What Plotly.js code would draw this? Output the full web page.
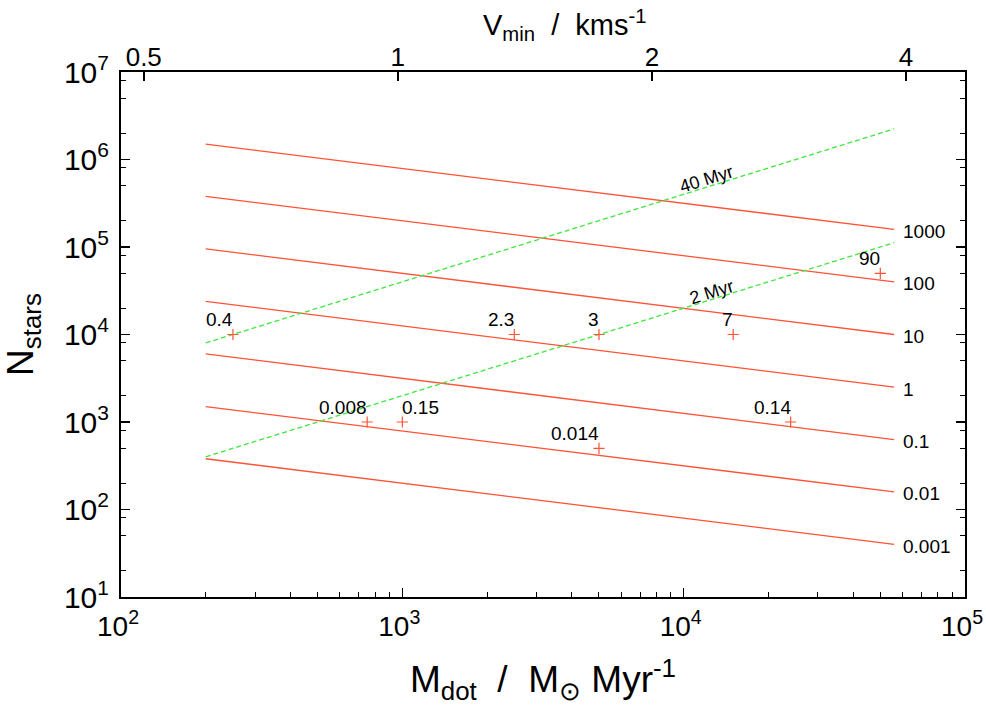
<!DOCTYPE html>
<html>
<head>
<meta charset="utf-8">
<script src="https://cdn.plot.ly/plotly-3.0.1.min.js"></script>
<style>html,body{margin:0;padding:0;background:#fff;}</style>
</head>
<body>
<div id="chart" style="width:986px;height:710px;"></div>
<script>
// ---- data ----
const lineMdot = [200, 56000];                    // x extent of model lines (M_dot)
const lineLabels = ['1000', '100', '10', '1', '0.1', '0.01', '0.001'];
const lineStartN = [1.50e6, 3.78e5, 9.5e4, 2.39e4, 6.0e3, 1.5e3, 3.8e2];
const lineEndN   = [1.59e5, 4.0e4, 1.0e4, 2.5e3, 6.3e2, 1.59e2, 4.0e1];

const ageLabels = ['40 Myr', '2 Myr'];
const ageStartN = [8.0e3, 4.0e2];
const ageEndN   = [2.24e6, 1.12e5];
const ageLabelMdot = [11900, 12400];
const ageLabelN    = [4.8e5, 2.5e4];

const ptMdot   = [250, 750, 1000, 2500, 5000, 15000, 5000, 24000, 50000];
const ptN      = [1e4, 1e3, 1e3, 1e4, 1e4, 1e4, 500, 1e3, 5e4];
const ptLabels = ['0.4', '0.008', '0.15', '2.3', '3', '7', '0.014', '0.14', '90'];
const ptAnchor = ['right', 'right', 'left', 'right', 'right', 'right', 'right', 'right', 'right'];

const xTickVals = [1e2, 1e3, 1e4, 1e5];
const xTickText = ['10<sup>2</sup>', '10<sup>3</sup>', '10<sup>4</sup>', '10<sup>5</sup>'];
const yTickVals = [1e1, 1e2, 1e3, 1e4, 1e5, 1e6, 1e7];
const yTickText = ['10<sup>1</sup>', '10<sup>2</sup>', '10<sup>3</sup>', '10<sup>4</sup>', '10<sup>5</sup>', '10<sup>6</sup>', '10<sup>7</sup>'];
const vTickVals = [0.5, 1, 2, 4];
const vTickText = ['0.5', '1', '2', '4'];
const vRangeLog = [-0.328, 0.672];   // V_min axis range (log10) matching M_dot 1e2..1e5

// minor tick positions
const xMinor = [];
[1e2, 1e3, 1e4].forEach(d => { for (let m = 2; m <= 9; m++) xMinor.push(m * d); });
const yMinor = [];
[1e1, 1e2, 1e3, 1e4, 1e5, 1e6].forEach(d => { [2, 5, 8].forEach(m => yMinor.push(m * d)); });

const RED = '#ff5236';
const GREEN = '#3de83d';
const FONT = 'Liberation Sans, Arial, Helvetica, sans-serif';

const traces = [];
lineLabels.forEach((lab, i) => {
  traces.push({
    x: lineMdot, y: [lineStartN[i], lineEndN[i]],
    mode: 'lines', line: {color: RED, width: 1.3}, hoverinfo: 'skip', name: lab
  });
});
ageLabels.forEach((lab, i) => {
  traces.push({
    x: lineMdot, y: [ageStartN[i], ageEndN[i]],
    mode: 'lines', line: {color: GREEN, width: 1.3, dash: '5px,3px'}, hoverinfo: 'skip', name: lab
  });
});
traces.push({
  x: ptMdot, y: ptN, mode: 'markers',
  marker: {symbol: 'cross-thin', size: 8, line: {color: RED, width: 1.2}, color: RED},
  hoverinfo: 'skip', name: 'points'
});
// invisible trace so the top V_min axis is created and drawn
traces.push({
  x: vTickVals, y: vTickVals.map(() => yTickVals[0]), xaxis: 'x2', yaxis: 'y',
  mode: 'markers', marker: {opacity: 0, size: 1}, hoverinfo: 'skip', name: 'vaxis'
});

const annotations = [];
lineLabels.forEach((lab, i) => {
  annotations.push({
    x: Math.log10(lineMdot[1]), y: Math.log10(lineEndN[i]), xref: 'x', yref: 'y',
    text: lab, showarrow: false, xanchor: 'left', yanchor: 'middle',
    xshift: 7, yshift: -2, font: {size: 19, family: FONT, color: 'black'}
  });
});
ageLabels.forEach((lab, i) => {
  annotations.push({
    x: Math.log10(ageLabelMdot[i]), y: Math.log10(ageLabelN[i]), xref: 'x', yref: 'y',
    text: lab, showarrow: false, xanchor: 'center', yanchor: 'middle', textangle: -17.3,
    xshift: 2, yshift: 8, font: {size: 18, family: FONT, color: 'black'}
  });
});
ptLabels.forEach((lab, i) => {
  annotations.push({
    x: Math.log10(ptMdot[i]), y: Math.log10(ptN[i]), xref: 'x', yref: 'y',
    text: lab, showarrow: false, xanchor: ptAnchor[i], yanchor: 'middle',
    xshift: ptAnchor[i] === 'right' ? 2 : -2, yshift: 15,
    font: {size: 19, family: FONT, color: 'black'}
  });
});
// top axis title (offset to the right as in the reference)
annotations.push({
  xref: 'paper', yref: 'paper', x: 0.526, y: 1, xanchor: 'center', yanchor: 'bottom',
  yshift: 25, showarrow: false,
  text: 'V<sub>min</sub>\u00A0\u00A0/\u00A0\u00A0kms<sup>-1</sup>',
  font: {size: 29, family: FONT, color: 'black'}
});

const axisCommon = {
  type: 'log', showgrid: false, zeroline: false,
  ticks: 'inside', ticklen: 9, tickwidth: 1.5, tickcolor: 'black',
  showline: true, linewidth: 2, linecolor: 'black', ticklabeloverflow: 'allow'
};

const layout = {
  width: 986, height: 710,
  margin: {l: 121, r: 21, t: 72, b: 113},
  paper_bgcolor: 'white', plot_bgcolor: 'white',
  font: {family: FONT, color: 'black'},
  showlegend: false,
  xaxis: Object.assign({}, axisCommon, {
    range: [2, 5], tickmode: 'array', tickvals: xTickVals, ticktext: xTickText,
    mirror: true, tickfont: {size: 28, family: FONT}, ticklabelstandoff: 3, ticklabelshift: -3,
    minor: {tickmode: 'array', tickvals: xMinor, ticks: 'inside', ticklen: 5, tickwidth: 1, tickcolor: 'black', showgrid: false},
    title: {text: 'M<sub>dot</sub>\u00A0\u00A0/\u00A0\u00A0M<sub>\u2299</sub> Myr<sup>-1</sup>', font: {size: 37, family: FONT}, standoff: 26}
  }),
  xaxis2: Object.assign({}, axisCommon, {
    overlaying: 'x', side: 'top', anchor: 'y',
    range: vRangeLog, tickmode: 'array', tickvals: vTickVals, ticktext: vTickText,
    showline: false, tickfont: {size: 26, family: FONT}
  }),
  yaxis: Object.assign({}, axisCommon, {
    range: [1, 7], tickmode: 'array', tickvals: yTickVals, ticktext: yTickText,
    mirror: 'ticks', tickfont: {size: 30, family: FONT}, ticklabelstandoff: 4,
    minor: {tickmode: 'array', tickvals: yMinor, ticks: 'inside', ticklen: 5, tickwidth: 1, tickcolor: 'black', showgrid: false},
    title: {text: 'N<sub>stars</sub>', font: {size: 37, family: FONT}, standoff: 26}
  }),
  annotations: annotations
};

Plotly.newPlot('chart', traces, layout, {displayModeBar: false, staticPlot: true});
</script>
</body>
</html>
